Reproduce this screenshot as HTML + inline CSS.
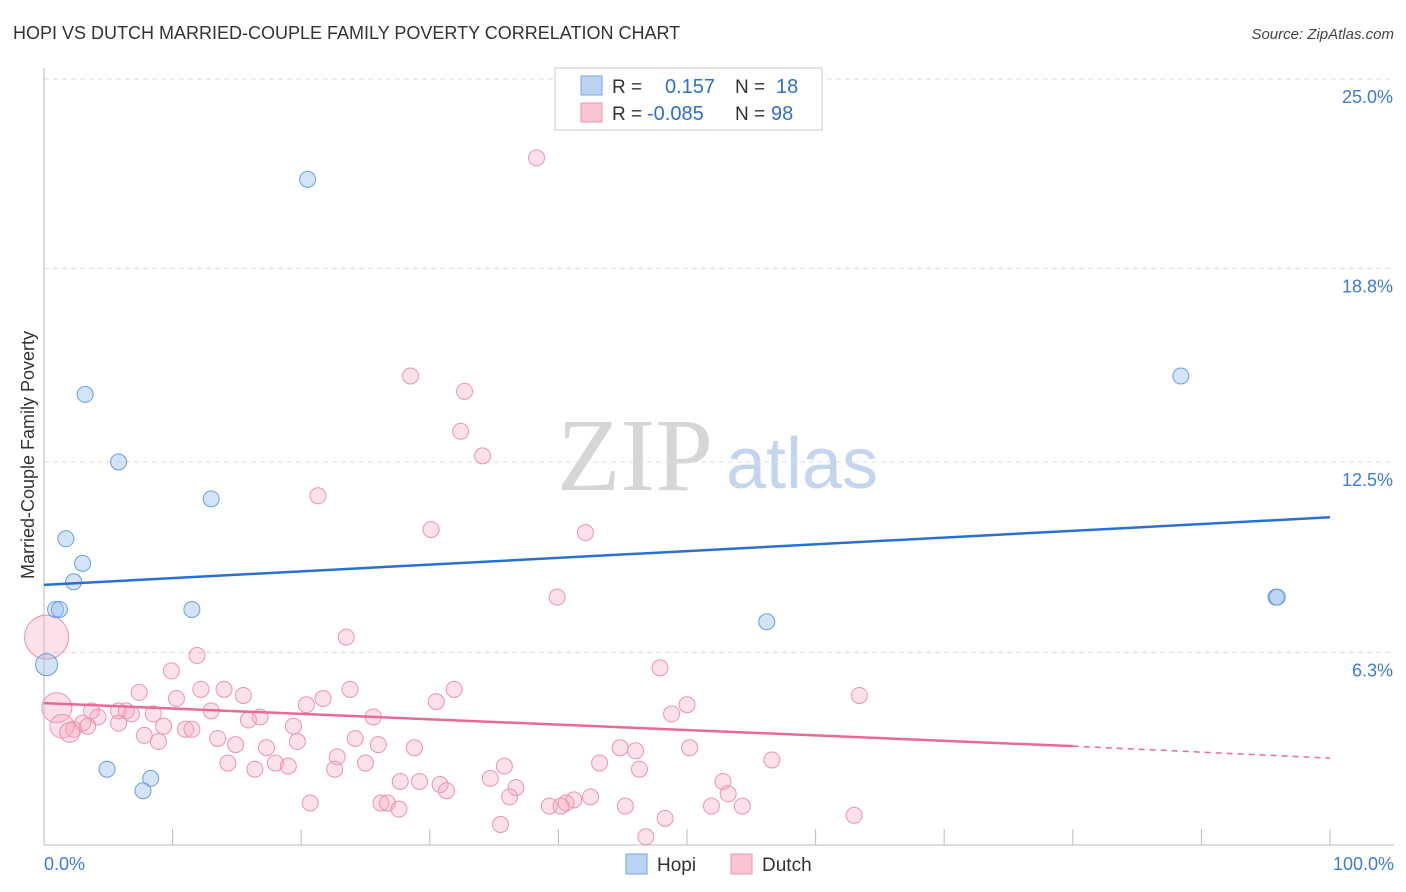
<!DOCTYPE html>
<html><head><meta charset="utf-8"><style>
body{margin:0;background:#fff;font-family:"Liberation Sans",sans-serif;}
svg{display:block}
</style></head><body>
<svg id="chart" width="1406" height="892" viewBox="0 0 1406 892">
<text x="13" y="39" font-size="18" fill="#333">HOPI VS DUTCH MARRIED-COUPLE FAMILY POVERTY CORRELATION CHART</text>
<text x="1394" y="39" font-size="15" fill="#444" text-anchor="end" font-style="italic">Source: ZipAtlas.com</text>
<text transform="translate(34,455) rotate(-90)" font-size="18" fill="#333" text-anchor="middle">Married-Couple Family Poverty</text>
<g>
<text x="635" y="490" font-size="104" fill="#d6d6d6" text-anchor="middle" font-family="Liberation Serif,serif">ZIP</text>
<text x="802" y="488" font-size="72" fill="#c4d6ee" text-anchor="middle">atlas</text>
</g>
<g id="grid"></g>
<g id="axes"></g>
<g id="marks"></g>
<g>
<rect x="555" y="68" width="267" height="62" fill="#fff" stroke="#ccc"/>
<rect x="581" y="76" width="21" height="19" fill="#bcd4f3" stroke="#7aa6e0"/>
<rect x="581" y="103" width="21" height="19" fill="#f8c6d3" stroke="#eb94ae"/>
<text x="612" y="93" font-size="19" fill="#333">R = </text><text x="665" y="93" font-size="20" fill="#2f6fd0">0.157</text>
<text x="735" y="93" font-size="19" fill="#333">N = </text><text x="776" y="93" font-size="20" fill="#2f6fd0">18</text>
<text x="612" y="120" font-size="19" fill="#333">R = </text><text x="647" y="120" font-size="20" fill="#2f6fd0">-0.085</text>
<text x="735" y="120" font-size="19" fill="#333">N = </text><text x="771" y="120" font-size="20" fill="#2f6fd0">98</text>
</g>
<g>
<rect x="626" y="854" width="21" height="20" fill="#bcd4f3" stroke="#7aa6e0"/>
<text x="657" y="871" font-size="19" fill="#333">Hopi</text>
<rect x="731" y="854" width="21" height="20" fill="#f8c6d3" stroke="#eb94ae"/>
<text x="762" y="871" font-size="19" fill="#333">Dutch</text>
</g>
</svg>
<script>
const yTicks=[6.3,12.5,18.8,25.0];
const yTickLabels=["6.3%","12.5%","18.8%","25.0%"];
const xTickCount=[0,10,20,30,40,50,60,70,80,90,100];
const hopiX=[20.5,3.2,5.8,13.0,1.7,3.0,2.3,0.9,1.2,11.5,0.2,4.9,8.3,7.7,56.2,88.4,95.8,95.9];
const hopiY=[21.7,14.7,12.5,11.3,10.0,9.2,8.6,7.7,7.7,7.7,5.9,2.5,2.2,1.8,7.3,15.3,8.1,8.1];
const dutchX=[38.3,28.5,32.7,32.4,34.1,21.3,30.1,42.1,39.9,23.5,11.9,9.9,47.9,63.4,31.9,23.8,14.0,12.2,7.4,15.5,21.7,10.3,30.5,50.0,20.4,13.0,3.7,5.8,6.4,6.8,8.5,16.8,15.9,25.6,48.8,4.2,5.8,11.0,11.5,9.3,19.4,3.0,3.4,2.3,7.8,13.5,24.2,8.9,14.9,19.7,26.0,28.8,44.8,46.0,50.2,17.3,22.8,18.0,25.0,14.3,16.4,19.0,22.6,35.8,43.2,56.6,46.3,34.7,27.7,29.2,30.8,31.3,36.7,52.8,53.2,36.2,20.7,26.2,26.7,27.6,42.5,41.2,40.6,39.3,40.2,45.2,51.9,54.3,48.3,63.0,35.5,46.8,0.2,1.0,1.4,2.0];
const dutchY=[22.4,15.3,14.8,13.5,12.7,11.4,10.3,10.2,8.1,6.8,6.2,5.7,5.8,4.9,5.1,5.1,5.1,5.1,5.0,4.9,4.8,4.8,4.7,4.6,4.6,4.4,4.4,4.4,4.4,4.3,4.3,4.2,4.1,4.2,4.3,4.2,4.0,3.8,3.8,3.9,3.9,4.0,3.9,3.8,3.6,3.5,3.5,3.4,3.3,3.4,3.3,3.2,3.2,3.1,3.2,3.2,2.9,2.7,2.7,2.7,2.5,2.6,2.5,2.6,2.7,2.8,2.5,2.2,2.1,2.1,2.0,1.8,1.9,2.1,1.7,1.6,1.4,1.4,1.4,1.2,1.6,1.5,1.4,1.3,1.3,1.3,1.3,1.3,0.9,1.0,0.7,0.3,6.8,4.5,3.9,3.7];
const dutchBig={92:22,93:15,94:12,95:10};
const hopiTrend=[8.5,10.7];
const dutchTrend=[4.65,3.25,2.86];
const dutchSolidEnd=80;
const NS="http://www.w3.org/2000/svg";
const X=v=>44+v*12.86, Y=v=>846-v*30.72;
function mk(p,t,a){const e=document.createElementNS(NS,t);for(const k in a)e.setAttribute(k,a[k]);p.appendChild(e);return e;}
const grid=document.getElementById('grid'),axes=document.getElementById('axes'),marks=document.getElementById('marks');
yTicks.forEach((t,i)=>{
 const gy=(i==3)?79:Y(t);
 const l=mk(grid,'line',{x1:44,x2:1394,y1:gy,y2:gy,stroke:'#ddd','stroke-dasharray':'5,4'});
 
 
 const tx=mk(grid,'text',{x:1393,y:gy+24,'font-size':18,fill:'#3f7bd6','text-anchor':'end'});
 tx.textContent=yTickLabels[i];
 
 
});
const ax=mk(axes,'line',{x1:44,x2:1394,y1:845,y2:845,stroke:'#bbb'});


const ay=mk(axes,'line',{x1:44,x2:44,y1:68,y2:845,stroke:'#bbb'});


xTickCount.forEach(t=>{const l=mk(axes,'line',{x1:X(t),x2:X(t),y1:829,y2:845,stroke:'#bbb'});
 
 });
const xl0=mk(axes,'text',{x:44,y:870,'font-size':18,fill:'#3f7bd6'});xl0.textContent='0.0%';


const xl1=mk(axes,'text',{x:1394,y:870,'font-size':18,fill:'#3f7bd6','text-anchor':'end'});xl1.textContent='100.0%';


dutchX.forEach((v,i)=>{const c=mk(marks,'circle',{cx:X(v),cy:Y(dutchY[i]),r:dutchBig[i]||8,fill:'rgba(245,170,192,0.35)',stroke:'#eb94ae','stroke-width':1});
 
 });
hopiX.forEach((v,i)=>{const c=mk(marks,'circle',{cx:X(v),cy:Y(hopiY[i]),r:i==10?11:8,fill:'rgba(160,195,240,0.45)',stroke:'#6b9ddf','stroke-width':1});
 
 });
const ht=mk(marks,'line',{x1:X(0),y1:Y(hopiTrend[0]),x2:X(100),y2:Y(hopiTrend[1]),stroke:'#2a6fd6','stroke-width':2.5});


const dt=mk(marks,'line',{x1:X(0),y1:Y(dutchTrend[0]),x2:X(dutchSolidEnd),y2:Y(dutchTrend[1]),stroke:'#e86a98','stroke-width':2.5});


const dd=mk(marks,'line',{x1:X(dutchSolidEnd),y1:Y(dutchTrend[1]),x2:X(100),y2:Y(dutchTrend[2]),stroke:'#e86a98','stroke-width':1.5,'stroke-dasharray':'6,5'});


</script>
</body></html>
